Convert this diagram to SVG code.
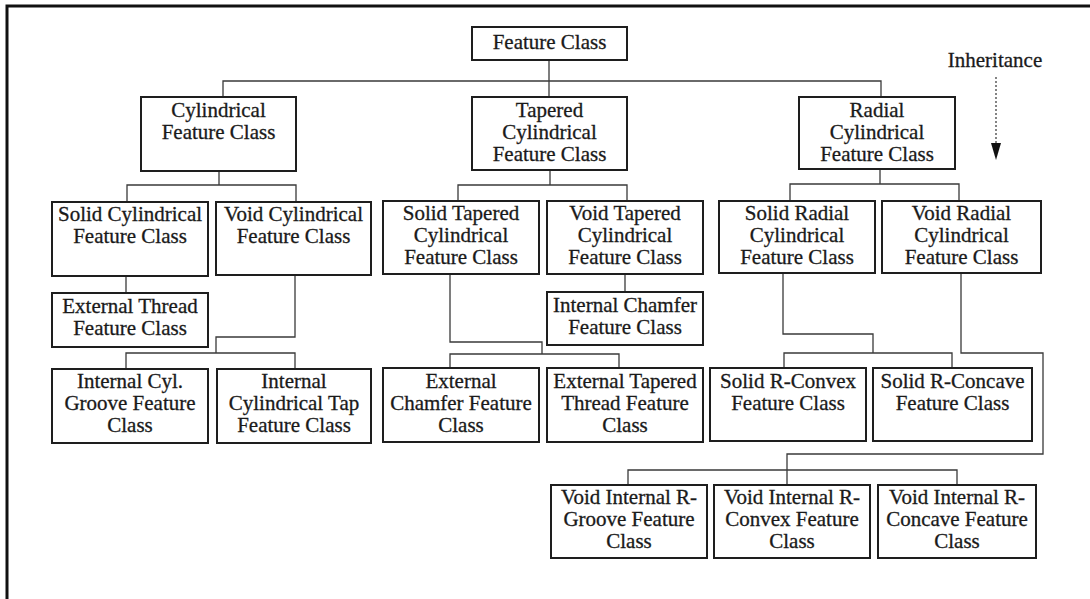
<svg xmlns="http://www.w3.org/2000/svg" width="1090" height="599" viewBox="0 0 1090 599">
  <style>
    .box { fill: #ffffff; stroke: #1e1e1e; stroke-width: 2; }
    .lbl { font-family: "Liberation Serif", "Times New Roman", serif; font-size: 21px; fill: #1a1a1a; stroke: #1a1a1a; stroke-width: 0.3; text-anchor: middle; }
    .wire { fill: none; stroke: #3a3a3a; stroke-width: 1.3; }
    .frame { fill: none; stroke: #111111; stroke-width: 3; }
  </style>

  <rect width="1090" height="599" fill="#ffffff"/>
  <path class="frame" d="M7,599 V6 H1090"/>

  <!-- legend: dotted inheritance arrow -->
  <g id="legend">
    <text class="lbl" x="995" y="67">Inheritance</text>
    <line x1="996" y1="77" x2="996" y2="143" stroke="#333" stroke-width="1.2" stroke-dasharray="2,2"/>
    <path d="M991,143 L1001,143 L996,160 Z" fill="#111"/>
  </g>

  <!-- inheritance links -->
  <g id="connectors" class="wire">
    <path d="M549,60 V97 M223,97 V81 H881 V97"/>
    <path d="M219,171 V185 M127,202 V185 H296 V202"/>
    <path d="M550,170 V185 M458,201 V185 H627 V201"/>
    <path d="M880,169 V184 M790,201 V184 H959 V201"/>
    <path d="M126,276 V293"/>
    <path d="M295,275 V337 H216 V353 M126,369 V353 H295 V369"/>
    <path d="M625,274 V292"/>
    <path d="M450,274 V342 H542 V354 M450,368 V354 H619 V368"/>
    <path d="M783,273 V334 H873 V353 M784,368 V353 H952 V368"/>
    <path d="M961,273 V353 H1043 V454 H787 V485 M628,485 V470 H957 V485"/>
  </g>

  <g id="feature-class">
    <rect class="box" x="472" y="27" width="155" height="33"/>
    <text class="lbl" x="549.5" y="49">Feature Class</text>
  </g>

  <g id="cylindrical">
    <rect class="box" x="141" y="97" width="155" height="74"/>
    <text class="lbl" x="218.5" y="117">Cylindrical</text>
    <text class="lbl" x="218.5" y="139">Feature Class</text>
  </g>

  <g id="tapered">
    <rect class="box" x="472" y="97" width="155" height="73"/>
    <text class="lbl" x="549.5" y="117">Tapered</text>
    <text class="lbl" x="549.5" y="139">Cylindrical</text>
    <text class="lbl" x="549.5" y="161">Feature Class</text>
  </g>

  <g id="radial">
    <rect class="box" x="799" y="97" width="156" height="72"/>
    <text class="lbl" x="877" y="117">Radial</text>
    <text class="lbl" x="877" y="139">Cylindrical</text>
    <text class="lbl" x="877" y="161">Feature Class</text>
  </g>

  <g id="solid-cylindrical">
    <rect class="box" x="52" y="202" width="156" height="74"/>
    <text class="lbl" x="130" y="221">Solid Cylindrical</text>
    <text class="lbl" x="130" y="243">Feature Class</text>
  </g>

  <g id="void-cylindrical">
    <rect class="box" x="216" y="202" width="155" height="73"/>
    <text class="lbl" x="293.5" y="221">Void Cylindrical</text>
    <text class="lbl" x="293.5" y="243">Feature Class</text>
  </g>

  <g id="solid-tapered">
    <rect class="box" x="383" y="201" width="156" height="73"/>
    <text class="lbl" x="461" y="220">Solid Tapered</text>
    <text class="lbl" x="461" y="242">Cylindrical</text>
    <text class="lbl" x="461" y="264">Feature Class</text>
  </g>

  <g id="void-tapered">
    <rect class="box" x="547" y="201" width="156" height="73"/>
    <text class="lbl" x="625" y="220">Void Tapered</text>
    <text class="lbl" x="625" y="242">Cylindrical</text>
    <text class="lbl" x="625" y="264">Feature Class</text>
  </g>

  <g id="solid-radial">
    <rect class="box" x="719" y="201" width="156" height="72"/>
    <text class="lbl" x="797" y="220">Solid Radial</text>
    <text class="lbl" x="797" y="242">Cylindrical</text>
    <text class="lbl" x="797" y="264">Feature Class</text>
  </g>

  <g id="void-radial">
    <rect class="box" x="882" y="201" width="159" height="72"/>
    <text class="lbl" x="961.5" y="220">Void Radial</text>
    <text class="lbl" x="961.5" y="242">Cylindrical</text>
    <text class="lbl" x="961.5" y="264">Feature Class</text>
  </g>

  <g id="external-thread">
    <rect class="box" x="52" y="293" width="156" height="54"/>
    <text class="lbl" x="130" y="313">External Thread</text>
    <text class="lbl" x="130" y="335">Feature Class</text>
  </g>

  <g id="internal-chamfer">
    <rect class="box" x="547" y="292" width="156" height="53"/>
    <text class="lbl" x="625" y="312">Internal Chamfer</text>
    <text class="lbl" x="625" y="334">Feature Class</text>
  </g>

  <g id="internal-cyl-groove">
    <rect class="box" x="52" y="369" width="156" height="74"/>
    <text class="lbl" x="130" y="388">Internal Cyl.</text>
    <text class="lbl" x="130" y="410">Groove Feature</text>
    <text class="lbl" x="130" y="432">Class</text>
  </g>

  <g id="internal-cylindrical-tap">
    <rect class="box" x="217" y="369" width="154" height="74"/>
    <text class="lbl" x="294" y="388">Internal</text>
    <text class="lbl" x="294" y="410">Cylindrical Tap</text>
    <text class="lbl" x="294" y="432">Feature Class</text>
  </g>

  <g id="external-chamfer">
    <rect class="box" x="383" y="368" width="156" height="74"/>
    <text class="lbl" x="461" y="388">External</text>
    <text class="lbl" x="461" y="410">Chamfer Feature</text>
    <text class="lbl" x="461" y="432">Class</text>
  </g>

  <g id="external-tapered-thread">
    <rect class="box" x="547" y="368" width="156" height="74"/>
    <text class="lbl" x="625" y="388">External Tapered</text>
    <text class="lbl" x="625" y="410">Thread Feature</text>
    <text class="lbl" x="625" y="432">Class</text>
  </g>

  <g id="solid-r-convex">
    <rect class="box" x="710" y="368" width="156" height="73"/>
    <text class="lbl" x="788" y="388">Solid R-Convex</text>
    <text class="lbl" x="788" y="410">Feature Class</text>
  </g>

  <g id="solid-r-concave">
    <rect class="box" x="873" y="368" width="159" height="73"/>
    <text class="lbl" x="952.5" y="388">Solid R-Concave</text>
    <text class="lbl" x="952.5" y="410">Feature Class</text>
  </g>

  <g id="void-internal-r-groove">
    <rect class="box" x="551" y="485" width="156" height="73"/>
    <text class="lbl" x="629" y="504">Void Internal R-</text>
    <text class="lbl" x="629" y="526">Groove Feature</text>
    <text class="lbl" x="629" y="548">Class</text>
  </g>

  <g id="void-internal-r-convex">
    <rect class="box" x="714" y="485" width="156" height="73"/>
    <text class="lbl" x="792" y="504">Void Internal R-</text>
    <text class="lbl" x="792" y="526">Convex Feature</text>
    <text class="lbl" x="792" y="548">Class</text>
  </g>

  <g id="void-internal-r-concave">
    <rect class="box" x="878" y="485" width="158" height="73"/>
    <text class="lbl" x="957" y="504">Void Internal R-</text>
    <text class="lbl" x="957" y="526">Concave Feature</text>
    <text class="lbl" x="957" y="548">Class</text>
  </g>
</svg>
